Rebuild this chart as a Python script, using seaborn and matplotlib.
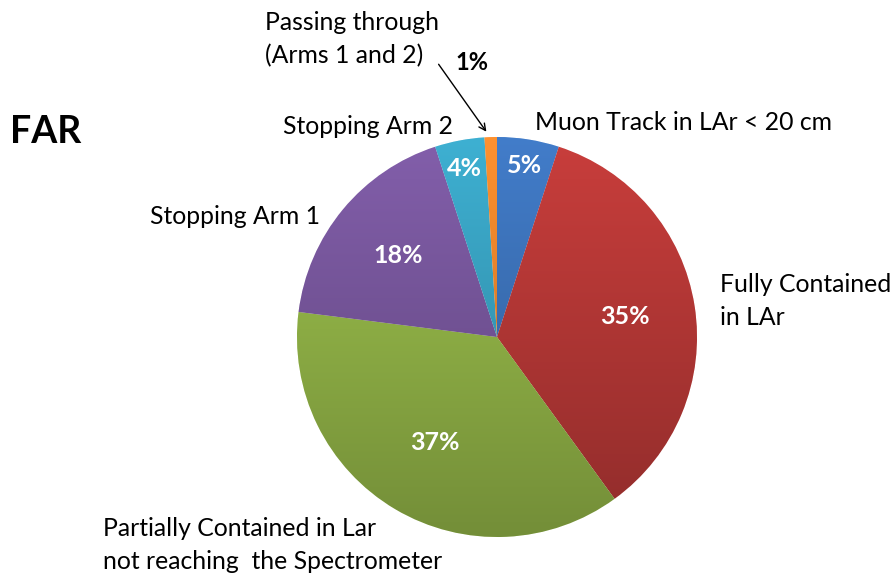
import numpy as np
import seaborn as sns
import matplotlib.pyplot as plt
from matplotlib.colors import LinearSegmentedColormap, to_rgb

categories = [
    "Muon Track in LAr < 20 cm",
    "Fully Contained\nin LAr",
    "Partially Contained in Lar\nnot reaching  the Spectrometer",
    "Stopping Arm 1",
    "Stopping Arm 2",
    "Passing through\n(Arms 1 and 2)",
]
shares = [5, 35, 37, 18, 4, 1]
pct_labels = ["5%", "35%", "37%", "18%", "4%", "1%"]
colors = ["#4079c4", "#c33c3a", "#9cc04c", "#7f5ca6", "#3cabcc", "#f98d2e"]

sns.set_theme(style="white")
plt.rcParams["font.family"] = ["Lato", "DejaVu Sans"]

fig = plt.figure(figsize=(8.96, 5.75), dpi=100)
ax = fig.add_axes([0, 0, 1, 1])

# pie placed in pixel-like coords (y up)
cx, cy, r = 497, 238, 200
wedges, _ = ax.pie(shares, colors=colors, startangle=90, counterclock=False,
                   center=(cx, cy), radius=r, frame=True,
                   wedgeprops=dict(linewidth=0.5, edgecolor="white"))

# vertical light-to-dark gradient, clipped to each slice
grad = np.linspace(0, 1, 256).reshape(-1, 1)
for w, c in zip(wedges, colors):
    base = np.array(to_rgb(c))
    light = np.clip(base * 1.03, 0, 1)
    dark = base * 0.74
    cmap = LinearSegmentedColormap.from_list("g", [dark, light])
    im = ax.imshow(grad, extent=[cx - r, cx + r, cy - r, cy + r], origin="lower",
                   cmap=cmap, aspect="auto", zorder=2, interpolation="bilinear")
    im.set_clip_path(w)

# percentage labels
pct_dist = [0.87, 0.65, 0.61, 0.64, 0.86, None]
for w, lab, d in zip(wedges, pct_labels, pct_dist):
    if d is None:
        continue
    ang = np.deg2rad((w.theta1 + w.theta2) / 2)
    ax.text(cx + d * r * np.cos(ang), cy + d * r * np.sin(ang), lab,
            color="white", fontsize=18, fontweight="bold",
            ha="center", va="center", zorder=4)

# 1% label outside with arrow
ax.text(472, 575 - 62, pct_labels[5], fontsize=17, fontweight="bold",
        color="black", ha="center", va="center", zorder=4)
ax.annotate("", xy=(488, 575 - 134), xytext=(437, 575 - 62),
            arrowprops=dict(arrowstyle="->", color="black", lw=1), zorder=4)

# category labels
label_pos = [(535, 123), (720, 301), (103, 545), (150, 217), (283, 127), (265, 39)]
for lab, (x, y) in zip(categories, label_pos):
    ax.text(x, 575 - y, lab, fontsize=17.8, color="black", ha="left",
            va="center", linespacing=1.55, zorder=4)

ax.text(10, 575 - 132, "FAR", fontsize=27, fontweight="bold", color="black",
        ha="left", va="center")

ax.set_xlim(0, 896)
ax.set_ylim(0, 575)
ax.set_aspect("equal")
ax.axis("off")

fig.savefig("out.png", dpi=100)
